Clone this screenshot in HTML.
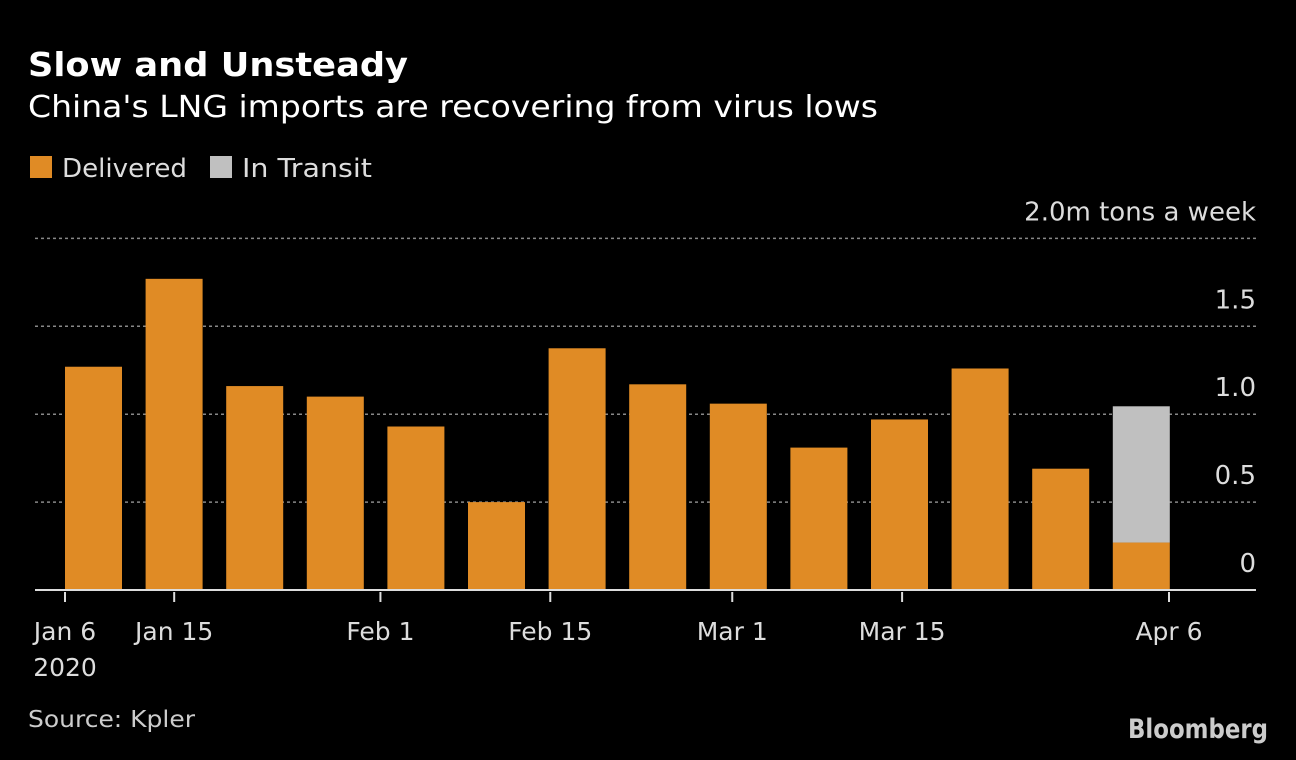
<!DOCTYPE html>
<html><head><meta charset="utf-8"><style>
body{margin:0;background:#000;width:1296px;height:756px;overflow:hidden;font-family:"DejaVu Sans","Liberation Sans",sans-serif;color:#fff}
svg text{font-family:"DejaVu Sans","Liberation Sans",sans-serif}
</style></head><body>
<svg width="1296" height="756">
<text x="28" y="76" font-size="33" font-weight="bold" fill="#fff" textLength="380" lengthAdjust="spacingAndGlyphs">Slow and Unsteady</text>
<text x="28" y="117" font-size="30" fill="#fff" textLength="850" lengthAdjust="spacingAndGlyphs">China's LNG imports are recovering from virus lows</text>
<rect x="30" y="156" width="22" height="22" fill="#e08b25"/>
<text x="62" y="177" font-size="26" fill="#ddd" textLength="125" lengthAdjust="spacingAndGlyphs">Delivered</text>
<rect x="210" y="156" width="22" height="22" fill="#c0c0c0"/>
<text x="242" y="177" font-size="26" fill="#ddd" textLength="130" lengthAdjust="spacingAndGlyphs">In Transit</text>
<g id="grid"></g><g id="bars"></g><g id="xaxis"></g>
<text x="28" y="727" font-size="23" fill="#ccc" textLength="167" lengthAdjust="spacingAndGlyphs">Source: Kpler</text>
<text x="1268" y="738" font-size="27" font-weight="bold" fill="#ccc" text-anchor="end" textLength="140" lengthAdjust="spacingAndGlyphs" font-family="Liberation Sans">Bloomberg</text>
</svg>
<script>
const delivered=[1.27,1.77,1.16,1.10,0.93,0.50,1.375,1.17,1.06,0.81,0.97,1.26,0.69,0.27];
const inTransit=[0,0,0,0,0,0,0,0,0,0,0,0,0,0.775];
const yTicks=[0,0.5,1.0,1.5,2.0];
const yTickLabels=["0","0.5","1.0","1.5","2.0m tons a week"];
const xTickDays=[0,9,26,40,55,69,91];
const xTickLabels=["Jan 6","Jan 15","Feb 1","Feb 15","Mar 1","Mar 15","Apr 6"];
const NS="http://www.w3.org/2000/svg";
const y=v=>590-v*175.8;
const xBand=i=>65+i*80.6;
const xDay=d=>65+d*(1104/91);
function mk(tag,attrs,parent,text){const e=document.createElementNS(NS,tag);for(const k in attrs)e.setAttribute(k,attrs[k]);if(text!==undefined)e.textContent=text;document.getElementById(parent).appendChild(e);return e;}
yTicks.forEach((t,i)=>{
 if(t>0){const l=mk('line',{x1:35,x2:1256,y1:y(t),y2:y(t),stroke:'#888','stroke-width':1.5,'stroke-dasharray':'3,3'},'grid');
 
 }
 const tx=mk('text',{x:1256,y:y(t)-18,'font-size':26,fill:'#ddd','text-anchor':'end'},'grid',yTickLabels[i]);
 
 
});
delivered.forEach((v,i)=>{
 const r=mk('rect',{x:xBand(i),y:y(v),width:57,height:y(0)-y(v),fill:'#e08b25'},'bars');
 
 
 if(inTransit[i]>0){const r2=mk('rect',{x:xBand(i),y:y(v+inTransit[i]),width:57,height:y(v)-y(v+inTransit[i]),fill:'#c0c0c0'},'bars');
 
 }
});
const ax=mk('line',{x1:35,x2:1256,y1:590,y2:590,stroke:'#ddd','stroke-width':2},'xaxis');


xTickDays.forEach((d,i)=>{
 const t=mk('line',{x1:xDay(d),x2:xDay(d),y1:592,y2:602,stroke:'#ddd','stroke-width':2},'xaxis');
 
 
 const tx=mk('text',{x:xDay(d),y:640,'font-size':25,fill:'#ddd','text-anchor':'middle'},'xaxis',xTickLabels[i]);
 
 
});
const yr=mk('text',{x:65,y:676,'font-size':25,fill:'#ddd','text-anchor':'middle'},'xaxis','2020');


</script>
</body></html>
